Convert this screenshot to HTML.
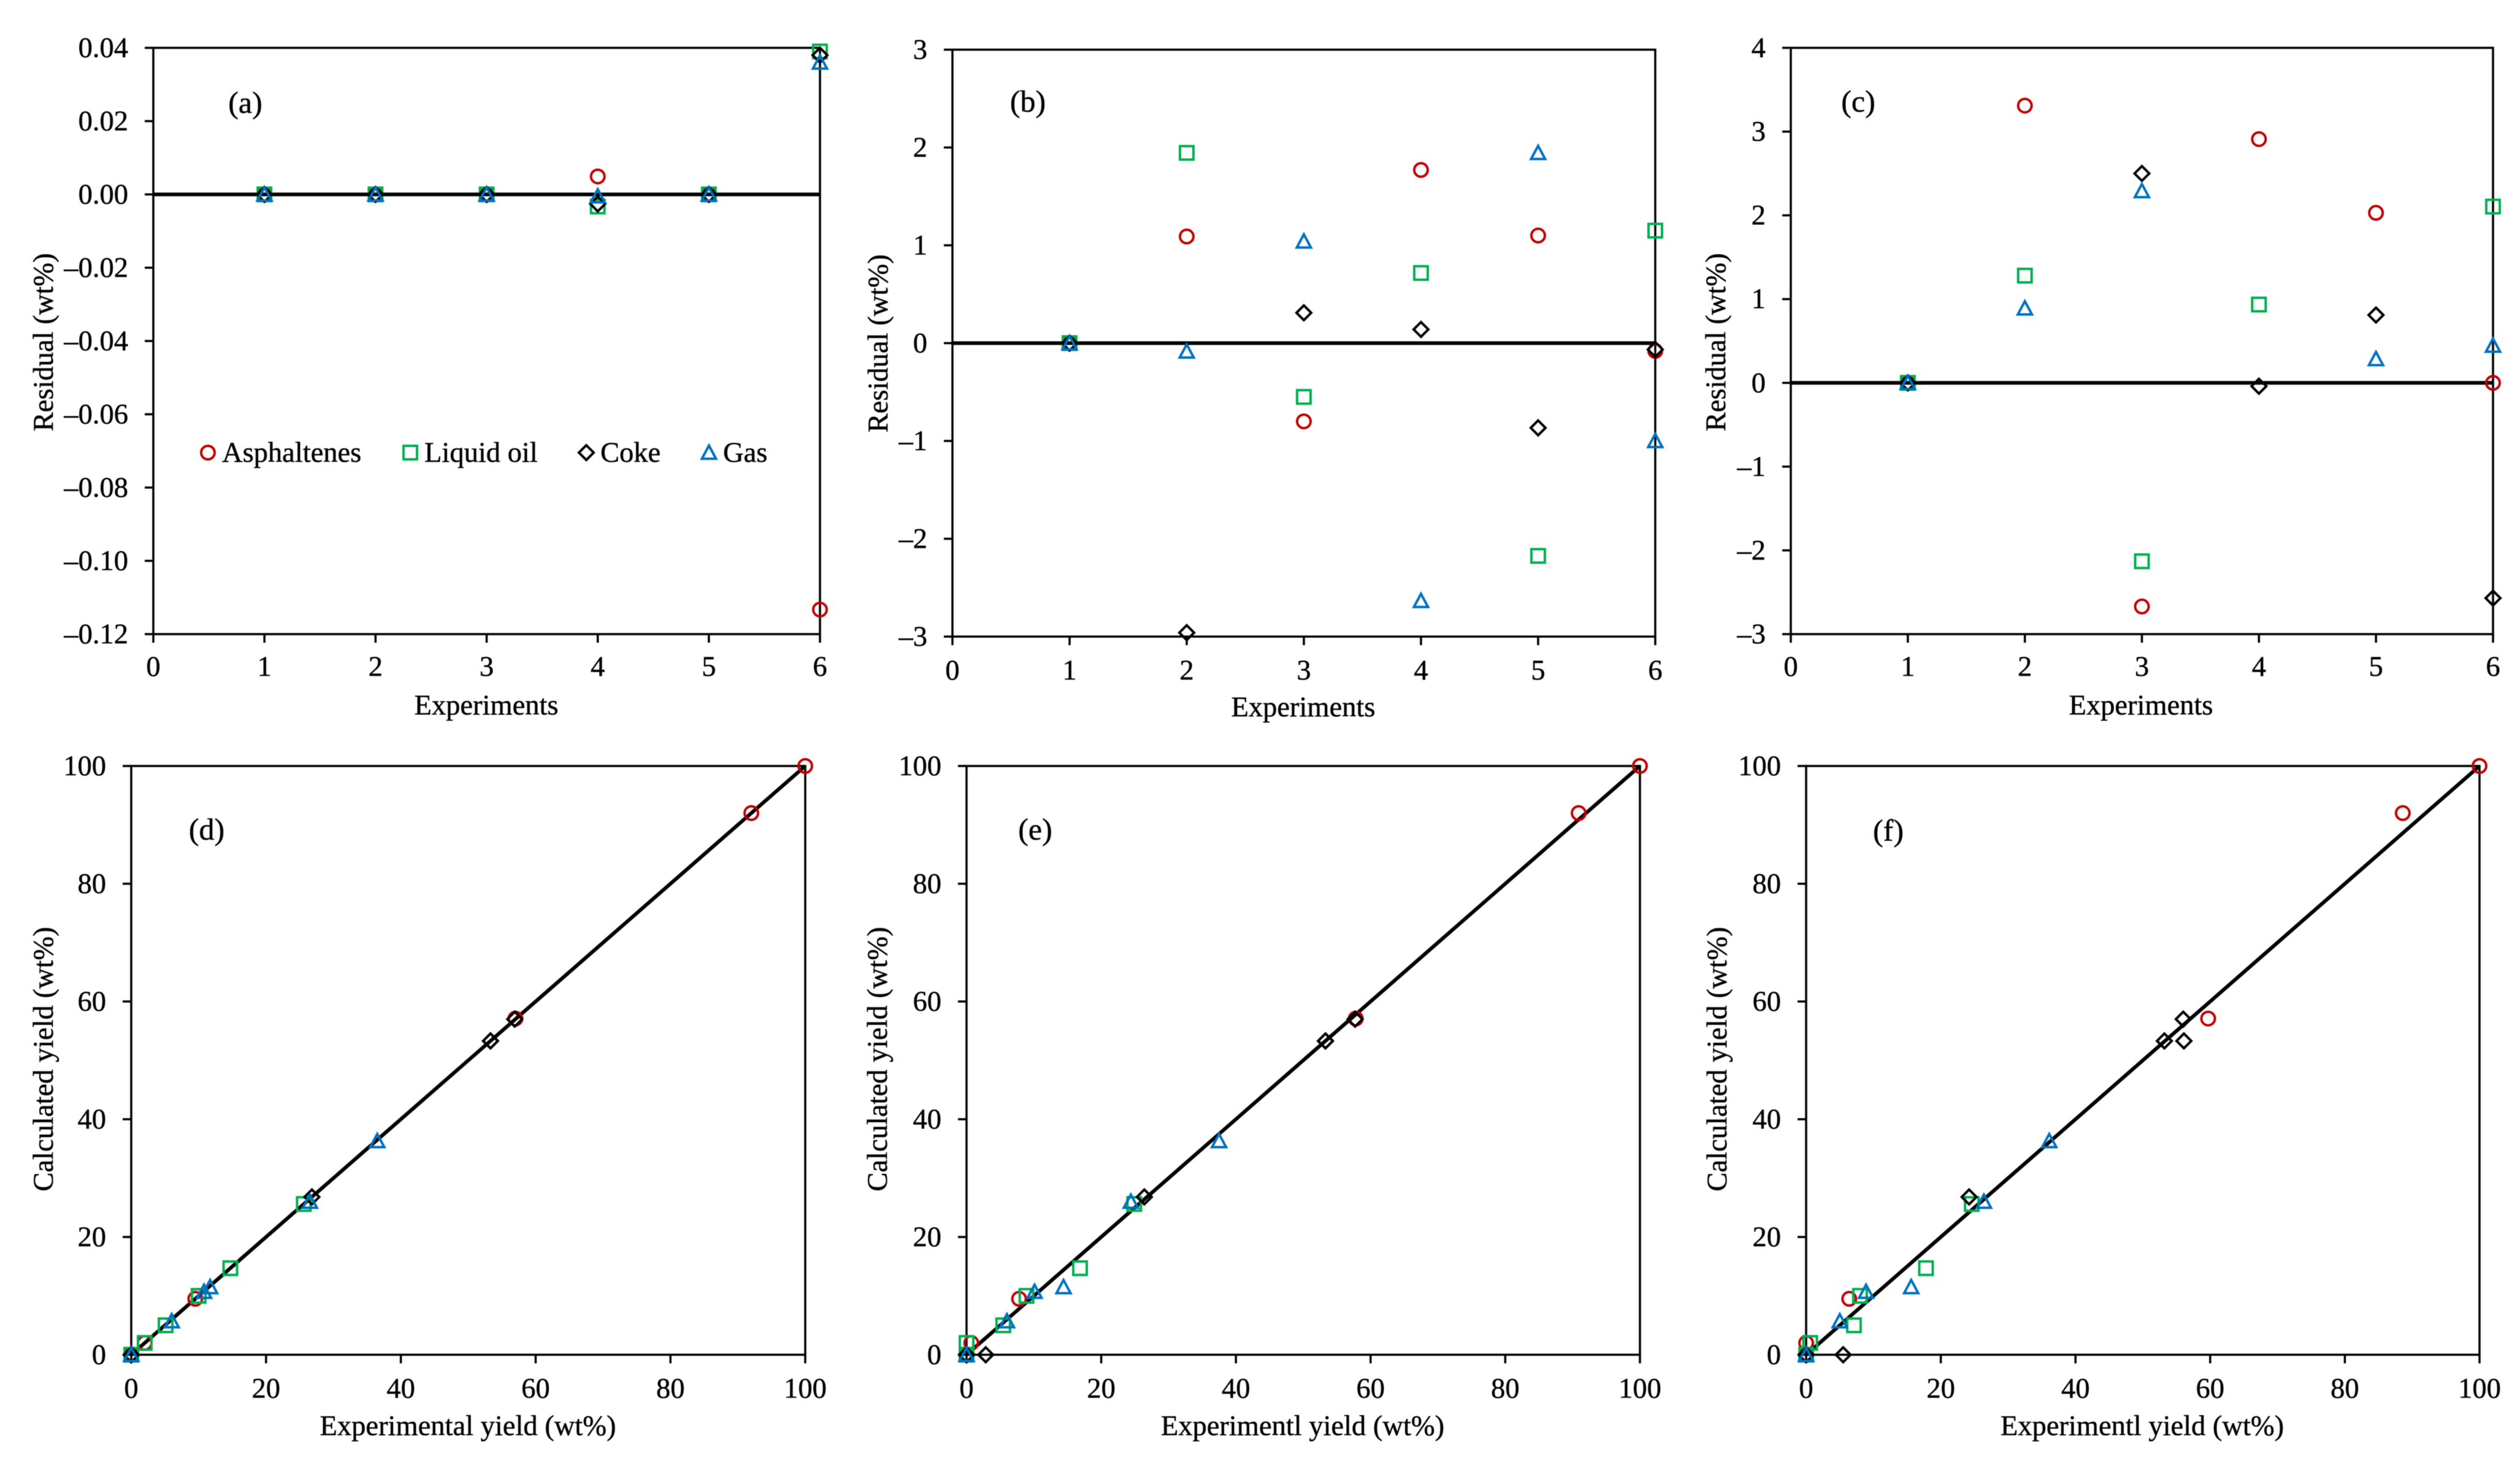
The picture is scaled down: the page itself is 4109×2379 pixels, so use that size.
<!DOCTYPE html>
<html lang="en">
<head>
<meta charset="utf-8">
<title>Residual and parity plots for asphaltenes, liquid oil, coke and gas</title>
<style>
html,body{margin:0;padding:0;background:#fff;width:4109px;height:2379px;overflow:hidden}
svg{display:block;filter:blur(0.6px)}
text{font-family:"Liberation Serif","Times New Roman",serif;font-size:46.5px;fill:#000;stroke:#000;stroke-width:0.5px}
.panel-letter{font-size:50px}
</style>
</head>
<body>
<svg id="figure" xmlns="http://www.w3.org/2000/svg" width="4109" height="2379" viewBox="0 0 4109 2379">
<rect x="0" y="0" width="4109" height="2379" fill="#ffffff"/>
</svg>
<script>
// ---------- Tick labels ----------
const experimentTicks = [0, 1, 2, 3, 4, 5, 6];
const yieldTicks = [0, 20, 40, 60, 80, 100];
const panelAResidualTicks = [0.04, 0.02, 0, -0.02, -0.04, -0.06, -0.08, -0.10, -0.12];
const panelAResidualLabels = ["0.04", "0.02", "0.00", "–0.02", "–0.04", "–0.06", "–0.08", "–0.10", "–0.12"];
const panelBResidualTicks = [3, 2, 1, 0, -1, -2, -3];
const panelBResidualLabels = ["3", "2", "1", "0", "–1", "–2", "–3"];
const panelCResidualTicks = [4, 3, 2, 1, 0, -1, -2, -3];
const panelCResidualLabels = ["4", "3", "2", "1", "0", "–1", "–2", "–3"];

// ---------- Residual panels: experiment number and residual (null = off the axes) ----------
const experiments = [1, 2, 3, 4, 5, 6];

const panelAAsphaltenes = [0, 0, 0, 0.0049, 0, -0.1133];
const panelALiquidOil = [0, 0, 0, -0.0033, 0, 0.039];
const panelACoke = [0, 0, 0, -0.0026, 0, 0.038];
const panelAGas = [0, 0, 0, -0.0005, 0, 0.036];

const panelBAsphaltenes = [0, 1.09, -0.80, 1.77, 1.10, -0.08];
const panelBLiquidOil = [0, 1.945, -0.55, 0.717, -2.175, 1.15];
const panelBCoke = [0, -2.96, 0.31, 0.14, -0.866, -0.065];
const panelBGas = [0, -0.085, 1.04, -2.635, 1.945, -1.0];

const panelCAsphaltenes = [0, 3.31, -2.67, 2.91, 2.03, 0];
const panelCLiquidOil = [0, 1.28, -2.13, 0.935, null, 2.105];
const panelCCoke = [0, null, 2.50, -0.04, 0.81, -2.57];
const panelCGas = [0, 0.89, 2.29, null, 0.285, 0.445];

// ---------- Parity panels: calculated yields (shared) ----------
const calcAsphaltenes = [0, 2, 9.5, 57.1, 92, 100];
const calcLiquidOil = [0, 2, 5, 10, 14.7, 25.6];
const calcGas = [0, 5.7, 10.7, 11.5, 26, 36.3];
const calcCoke = [0, 0, 26.8, 53.3, 53.3, 57];

// ---------- Parity panels: experimental yields ----------
const panelDExpAsphaltenes = [0, 2, 9.5, 57, 92, 100];
const panelDExpLiquidOil = [0, 2, 5.1, 10, 14.7, 25.6];
const panelDExpGas = [0, 6, 10.8, 11.7, 26.5, 36.5];
const panelDExpCoke = [0, 0, 26.8, 53.3, 53.3, 56.9];

const panelEExpAsphaltenes = [0, 0.7, 7.8, 57.8, 90.9, 100];
const panelEExpLiquidOil = [0, 0, 5.45, 8.9, 16.85, 24.9];
const panelEExpGas = [0, 6, 10.1, 14.4, 24.4, 37.5];
const panelEExpCoke = [0, 2.85, 26.4, 53.3, 53.3, 57.7];

const panelFExpAsphaltenes = [0, 0, 6.4, 59.7, 88.6, 100];
const panelFExpLiquidOil = [0, 0.6, 7.1, 8, 17.8, 24.6];
const panelFExpGas = [0, 5, 8.9, 15.6, 26.4, 36.1];
const panelFExpCoke = [0, 5.5, 24.2, 53.2, 56.1, 56];

// ---------- Reference line ----------
const parityLineX = [0, 100];
const parityLineY = [0, 100];

// ---------- Rendering ----------
const SVG_NS = "http://www.w3.org/2000/svg";
const figure = document.getElementById("figure");
const RED = "#C00000", GREEN = "#00B050", BLACK = "#000000", BLUE = "#0070C0";
const MARKER_STROKE = 4;

function svgEl(tag, parent) {
  const el = document.createElementNS(SVG_NS, tag);
  parent.appendChild(el);
  return el;
}
function line(parent, x1, y1, x2, y2, width) {
  const el = svgEl("line", parent);
  el.setAttribute("x1", x1);
  el.setAttribute("y1", y1);
  el.setAttribute("x2", x2);
  el.setAttribute("y2", y2);
  el.setAttribute("stroke", "#000");
  el.setAttribute("stroke-width", width);
  return el;
}
function label(parent, x, y, str, anchor) {
  const el = svgEl("text", parent);
  el.setAttribute("x", x);
  el.setAttribute("y", y);
  el.setAttribute("text-anchor", anchor);
  el.textContent = str;
  return el;
}
function marker(parent, kind, cx, cy) {
  let el;
  if (kind === "circle") {
    el = svgEl("circle", parent);
    el.setAttribute("cx", cx);
    el.setAttribute("cy", cy);
    el.setAttribute("r", 11);
    el.setAttribute("stroke", RED);
  } else if (kind === "square") {
    el = svgEl("rect", parent);
    el.setAttribute("x", cx - 11);
    el.setAttribute("y", cy - 11);
    el.setAttribute("width", 22);
    el.setAttribute("height", 22);
    el.setAttribute("stroke", GREEN);
  } else if (kind === "diamond") {
    el = svgEl("polygon", parent);
    el.setAttribute("points", [cx, cy - 12, cx + 12, cy, cx, cy + 12, cx - 12, cy].join(" "));
    el.setAttribute("stroke", BLACK);
  } else {
    el = svgEl("polygon", parent);
    el.setAttribute("points", [cx, cy - 11.5, cx + 11.5, cy + 10, cx - 11.5, cy + 10].join(" "));
    el.setAttribute("stroke", BLUE);
  }
  el.setAttribute("fill", "none");
  el.setAttribute("stroke-width", MARKER_STROKE);
  return el;
}

function drawPanel(p) {
  const g = svgEl("g", figure);
  
  

  const sx = v => p.left + (v - p.xMin) / (p.xMax - p.xMin) * (p.right - p.left);
  const sy = v => p.bottom - (v - p.yMin) / (p.yMax - p.yMin) * (p.bottom - p.top);

  // plot frame
  const frame = svgEl("rect", g);
  
  
  frame.setAttribute("x", p.left);
  frame.setAttribute("y", p.top);
  frame.setAttribute("width", p.right - p.left);
  frame.setAttribute("height", p.bottom - p.top);
  frame.setAttribute("fill", "none");
  frame.setAttribute("stroke", "#000");
  frame.setAttribute("stroke-width", 3.5);

  // x ticks
  p.xTicks.forEach((t, i) => {
    const tick = line(g, sx(t), p.bottom, sx(t), p.bottom + 14, 3.5);
    
    
    const txt = label(g, sx(t), p.bottom + p.xLabelOffset, String(p.xTicks[i]), "middle");
    
    
  });
  // y ticks
  p.yTicks.forEach((t, i) => {
    const tick = line(g, p.left - 14, sy(t), p.left, sy(t), 3.5);
    
    
    const txt = label(g, p.left - 41, sy(t) + 15, p.yLabels[i], "end");
    
    
  });

  // reference line
  const ref = p.parity
    ? line(g, sx(parityLineX[0]), sy(parityLineY[0]), sx(parityLineX[1]), sy(parityLineY[1]), 6)
    : line(g, p.left, sy(0), p.right, sy(0), 6);
  
  

  // series
  p.series.forEach(s => {
    const sg = svgEl("g", g);
    
    
    s.y.forEach((v, i) => {
      if (v === null || s.x[i] === null) return;
      const m = marker(sg, s.kind, sx(s.x[i]), sy(v));
      
      
    });
  });

  // panel letter
  const letter = label(g, p.letterX, p.letterY, p.letter, "middle");
  letter.setAttribute("class", "panel-letter");
  
  

  // axis titles
  const xt = label(g, p.xTitleX, p.xTitleY, p.xTitle, "middle");
  
  
  const yt = label(g, 0, 0, p.yTitle, "middle");
  yt.setAttribute("transform", "translate(" + p.yTitleX + " " + p.yTitleY + ") rotate(-90)");
  
  
}

const residualSeries = (a, l, c, g) => [
  { name: "asphaltenes", kind: "circle", x: experiments, y: a },
  { name: "liquid-oil", kind: "square", x: experiments, y: l },
  { name: "coke", kind: "diamond", x: experiments, y: c },
  { name: "gas", kind: "triangle", x: experiments, y: g }
];
const paritySeries = (ax, lx, cx, gx) => [
  { name: "asphaltenes", kind: "circle", x: ax, y: calcAsphaltenes },
  { name: "liquid-oil", kind: "square", x: lx, y: calcLiquidOil },
  { name: "coke", kind: "diamond", x: cx, y: calcCoke },
  { name: "gas", kind: "triangle", x: gx, y: calcGas }
];

const residualTitle = "Residual (wt%)";
const calcTitle = "Calculated yield (wt%)";

drawPanel({ id: "a", letter: "(a)", left: 250, right: 1337, top: 78, bottom: 1034, xMin: 0, xMax: 6, yMin: -0.12, yMax: 0.04,
  xTicks: experimentTicks, yTicks: panelAResidualTicks, yLabels: panelAResidualLabels, xLabelOffset: 68,
  letterX: 400, letterY: 184, xTitle: "Experiments", xTitleX: 793, xTitleY: 1165, yTitle: residualTitle, yTitleX: 86, yTitleY: 558,
  series: residualSeries(panelAAsphaltenes, panelALiquidOil, panelACoke, panelAGas) });

drawPanel({ id: "b", letter: "(b)", left: 1553, right: 2699, top: 81, bottom: 1038, xMin: 0, xMax: 6, yMin: -3, yMax: 3,
  xTicks: experimentTicks, yTicks: panelBResidualTicks, yLabels: panelBResidualLabels, xLabelOffset: 70,
  letterX: 1676, letterY: 182, xTitle: "Experiments", xTitleX: 2125, xTitleY: 1168, yTitle: residualTitle, yTitleX: 1447, yTitleY: 560,
  series: residualSeries(panelBAsphaltenes, panelBLiquidOil, panelBCoke, panelBGas) });

drawPanel({ id: "c", letter: "(c)", left: 2920, right: 4065, top: 78, bottom: 1034, xMin: 0, xMax: 6, yMin: -3, yMax: 4,
  xTicks: experimentTicks, yTicks: panelCResidualTicks, yLabels: panelCResidualLabels, xLabelOffset: 68,
  letterX: 3030, letterY: 182, xTitle: "Experiments", xTitleX: 3491, xTitleY: 1165, yTitle: residualTitle, yTitleX: 2813, yTitleY: 558,
  series: residualSeries(panelCAsphaltenes, panelCLiquidOil, panelCCoke, panelCGas) });

const parityLabels = yieldTicks.map(String);

drawPanel({ id: "d", parity: true, letter: "(d)", left: 214, right: 1313, top: 1249, bottom: 2209, xMin: 0, xMax: 100, yMin: 0, yMax: 100,
  xTicks: yieldTicks, yTicks: yieldTicks, yLabels: parityLabels, xLabelOffset: 70,
  letterX: 337, letterY: 1369, xTitle: "Experimental yield (wt%)", xTitleX: 763, xTitleY: 2340, yTitle: calcTitle, yTitleX: 86, yTitleY: 1727,
  series: paritySeries(panelDExpAsphaltenes, panelDExpLiquidOil, panelDExpCoke, panelDExpGas) });

drawPanel({ id: "e", parity: true, letter: "(e)", left: 1576, right: 2674, top: 1249, bottom: 2209, xMin: 0, xMax: 100, yMin: 0, yMax: 100,
  xTicks: yieldTicks, yTicks: yieldTicks, yLabels: parityLabels, xLabelOffset: 70,
  letterX: 1688, letterY: 1369, xTitle: "Experimentl yield (wt%)", xTitleX: 2124, xTitleY: 2340, yTitle: calcTitle, yTitleX: 1446, yTitleY: 1727,
  series: paritySeries(panelEExpAsphaltenes, panelEExpLiquidOil, panelEExpCoke, panelEExpGas) });

drawPanel({ id: "f", parity: true, letter: "(f)", left: 2945, right: 4043, top: 1249, bottom: 2209, xMin: 0, xMax: 100, yMin: 0, yMax: 100,
  xTicks: yieldTicks, yTicks: yieldTicks, yLabels: parityLabels, xLabelOffset: 70,
  letterX: 3079, letterY: 1371, xTitle: "Experimentl yield (wt%)", xTitleX: 3493, xTitleY: 2340, yTitle: calcTitle, yTitleX: 2815, yTitleY: 1727,
  series: paritySeries(panelFExpAsphaltenes, panelFExpLiquidOil, panelFExpCoke, panelFExpGas) });

// ---------- Legend ----------
const legendLabels = ["Asphaltenes", "Liquid oil", "Coke", "Gas"];
const legendKinds = ["circle", "square", "diamond", "triangle"];
const legendMarkerX = [339, 669, 956, 1156];
const legendGroup = svgEl("g", figure);


legendLabels.forEach((name, i) => {
  const m = marker(legendGroup, legendKinds[i], legendMarkerX[i], 738);
  
  
  const t = label(legendGroup, legendMarkerX[i] + 23, 753, name, "start");
  
  
});
</script>
</body>
</html>
